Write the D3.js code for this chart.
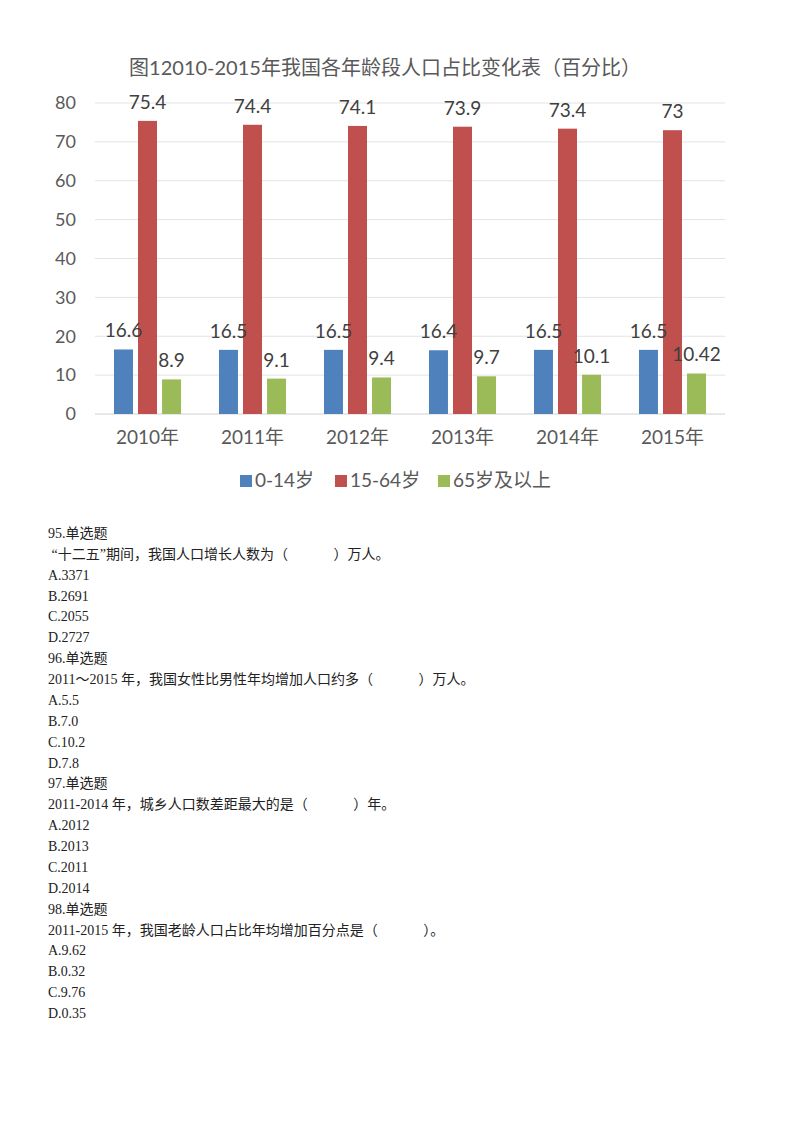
<!DOCTYPE html>
<html>
<head>
<meta charset="utf-8">
<script src="https://cdn.jsdelivr.net/npm/d3@7"></script>
<style>
  body { margin: 0; background: #fff; }
  svg { display: block; }
</style>
</head>
<body>
<div id="chart"></div>
<script>
// Chart data
const years = ["2010年", "2011年", "2012年", "2013年", "2014年", "2015年"];
const seriesNames = ["0-14岁", "15-64岁", "65岁及以上"];
const youth = [16.6, 16.5, 16.5, 16.4, 16.5, 16.5];
const working = [75.4, 74.4, 74.1, 73.9, 73.4, 73];
const elderly = [8.9, 9.1, 9.4, 9.7, 10.1, 10.42];
const yTicks = [0, 10, 20, 30, 40, 50, 60, 70, 80];
const colors = ["#4F81BD", "#C0504D", "#9BBB59"];

// Question text below the chart
const questionLines = [
    "95.单选题",
    " “十二五”期间，我国人口增长人数为（             ）万人。",
    "A.3371",
    "B.2691",
    "C.2055",
    "D.2727",
    "96.单选题",
    "2011～2015 年，我国女性比男性年均增加人口约多（             ）万人。",
    "A.5.5",
    "B.7.0",
    "C.10.2",
    "D.7.8",
    "97.单选题",
    "2011-2014 年，城乡人口数差距最大的是（             ）年。",
    "A.2012",
    "B.2013",
    "C.2011",
    "D.2014",
    "98.单选题",
    "2011-2015 年，我国老龄人口占比年均增加百分点是（             ）。",
    "A.9.62",
    "B.0.32",
    "C.9.76",
    "D.0.35"
];

const width = 800;
const height = 1132;
const chartFont = "Lato, 'Noto Sans CJK SC', sans-serif";

const svg = d3.select("#chart")
    .append("svg")
    .attr("width", width)
    .attr("height", height);

// Title
svg.append("text")
    .attr("x", 385)
    .attr("y", 75)
    .attr("text-anchor", "middle")
    .style("font-family", chartFont)
    .style("font-size", "20px")
    .style("fill", "#595959")
    .text("图12010-2015年我国各年龄段人口占比变化表（百分比）");

// Scales
const x0 = d3.scaleBand()
    .domain(years)
    .range([95, 725]);

const x1 = d3.scaleBand()
    .domain(seriesNames)
    .range([0, x0.bandwidth()])
    .paddingInner(0.21)
    .paddingOuter(0.79);

const y = d3.scaleLinear()
    .domain([0, 80])
    .range([414, 103]);

// Gridlines
svg.append("g")
    .selectAll("line")
    .data(yTicks)
    .join("line")
    .attr("x1", 95)
    .attr("x2", 725)
    .attr("y1", d => y(d))
    .attr("y2", d => y(d))
    .attr("stroke", d => d === 0 ? "#d0d0d0" : "#e3e3e3")
    .attr("stroke-width", 1);

// Y axis labels
const yAxis = d3.axisLeft(y).tickValues(yTicks).tickSize(0).tickPadding(0);
svg.append("g")
    .attr("transform", "translate(76,0)")
    .call(yAxis)
    .call(g => g.select(".domain").remove())
    .call(g => g.selectAll("text")
        .style("font-family", chartFont)
        .style("font-size", "18px")
        .style("fill", "#595959"));

// X axis labels
const xAxis = d3.axisBottom(x0).tickSize(0).tickPadding(0);
svg.append("g")
    .attr("transform", "translate(0,430)")
    .call(xAxis)
    .call(g => g.select(".domain").remove())
    .call(g => g.selectAll("text")
        .style("font-family", chartFont)
        .style("font-size", "19px")
        .style("fill", "#595959"));

// Build rows for each year
const table = years.map((yr, i) => ({
    year: yr,
    values: [youth[i], working[i], elderly[i]].map((v, j) => ({ key: seriesNames[j], value: v, color: colors[j] }))
}));

const groups = svg.append("g")
    .selectAll("g")
    .data(table)
    .join("g")
    .attr("transform", d => `translate(${x0(d.year)},0)`);

groups.selectAll("rect")
    .data(d => d.values)
    .join("rect")
    .attr("x", d => x1(d.key))
    .attr("y", d => y(d.value))
    .attr("width", x1.bandwidth())
    .attr("height", d => y(0) - y(d.value))
    .attr("fill", d => d.color);

// Data labels
groups.selectAll("text")
    .data(d => d.values)
    .join("text")
    .attr("x", d => x1(d.key) + x1.bandwidth() / 2)
    .attr("y", d => y(d.value) - 12)
    .attr("text-anchor", "middle")
    .style("font-family", chartFont)
    .style("font-size", "19px")
    .style("fill", "#404040")
    .text(d => d.value);

// Legend
const legendX = [240, 335, 438];
const legend = svg.append("g")
    .selectAll("g")
    .data(seriesNames)
    .join("g")
    .attr("transform", (d, i) => `translate(${legendX[i]},475)`);

legend.append("rect")
    .attr("width", 12)
    .attr("height", 12)
    .attr("fill", (d, i) => colors[i]);

legend.append("text")
    .attr("x", 15)
    .attr("y", 12)
    .style("font-family", chartFont)
    .style("font-size", "19px")
    .style("fill", "#595959")
    .text(d => d);

// Question block
svg.append("g")
    .selectAll("text")
    .data(questionLines)
    .join("text")
    .attr("x", 48)
    .attr("y", (d, i) => 538 + i * 20.87)
    .style("font-family", "'Liberation Serif', 'Noto Sans CJK SC', serif")
    .style("font-size", "14px")
    .style("fill", "#222")
    .style("white-space", "pre")
    .text(d => d);
</script>
</body>
</html>
